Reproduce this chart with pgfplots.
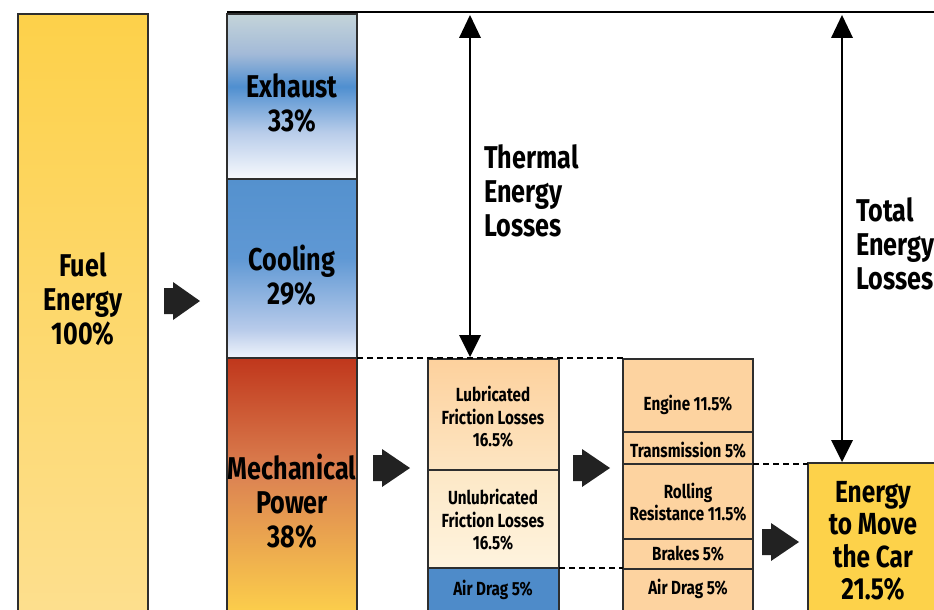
\documentclass[border=0pt]{standalone}
\usepackage{pgfplots}
\pgfplotsset{compat=1.18}
\usepackage{fontspec}
\setmainfont{Fira Sans}[FakeStretch=0.8]
\definecolor{fueltop}{HTML}{FDD14A}
\definecolor{fuelbot}{HTML}{FDDF8E}
\definecolor{exgray}{HTML}{C4D4D9}
\definecolor{exmid}{HTML}{A3BAD8}
\definecolor{exblue}{HTML}{4F8FD0}
\definecolor{exlight}{HTML}{B9CDEA}
\definecolor{exwhite}{HTML}{F7F9FD}
\definecolor{cotop}{HTML}{5491CE}
\definecolor{coband}{HTML}{5F98D4}
\definecolor{colight}{HTML}{B8CBEA}
\definecolor{cobot}{HTML}{F0F4FB}
\definecolor{metop}{HTML}{C0371C}
\definecolor{memid}{HTML}{DC8352}
\definecolor{mebot}{HTML}{FCCF4B}
\definecolor{lubtop}{HTML}{FDD19D}
\definecolor{lubbot}{HTML}{FDE5C2}
\definecolor{unltop}{HTML}{FDE8C6}
\definecolor{unlbot}{HTML}{FEF3DE}
\definecolor{dragblue}{HTML}{4E8BC9}
\definecolor{peach}{HTML}{FDD3A0}
\definecolor{energy}{HTML}{FDD24A}
\definecolor{arrowc}{HTML}{222222}
\definecolor{edge}{HTML}{2E2E2E}
\pgfdeclareverticalshading{fuelsh}{100bp}{color(0bp)=(fuelbot); color(25bp)=(fuelbot); color(75bp)=(fueltop); color(100bp)=(fueltop)}
\pgfdeclareverticalshading{exsh}{100bp}{color(0bp)=(exwhite); color(25bp)=(exwhite); color(39bp)=(exlight); color(53bp)=(exblue); color(63bp)=(exmid); color(75bp)=(exgray); color(100bp)=(exgray)}
\pgfdeclareverticalshading{cosh}{100bp}{color(0bp)=(cobot); color(25bp)=(cobot); color(33bp)=(colight); color(53bp)=(coband); color(75bp)=(cotop); color(100bp)=(cotop)}
\pgfdeclareverticalshading{mesh}{100bp}{color(0bp)=(mebot); color(25bp)=(mebot); color(52bp)=(memid); color(75bp)=(metop); color(100bp)=(metop)}
\pgfdeclareverticalshading{lubsh}{100bp}{color(0bp)=(lubbot); color(25bp)=(lubbot); color(75bp)=(lubtop); color(100bp)=(lubtop)}
\pgfdeclareverticalshading{unlsh}{100bp}{color(0bp)=(unlbot); color(25bp)=(unlbot); color(75bp)=(unltop); color(100bp)=(unltop)}
\begin{document}
\begin{tikzpicture}
\begin{axis}[width=934pt, height=610pt, scale only axis,
  xmin=0, xmax=934, ymin=0, ymax=610, y dir=reverse,
  hide axis, clip=true]
\addplot[draw=none] coordinates {(0,0) (934,610)};
% Fuel energy
\addplot[draw=edge, line width=1.5pt, shading=fuelsh] coordinates {(18,14) (148,14) (148,614) (18,614)} -- cycle;
% Exhaust, cooling, mechanical
\addplot[draw=edge, line width=1.5pt, shading=exsh] coordinates {(227,14) (357,14) (357,179) (227,179)} -- cycle;
\addplot[draw=edge, line width=1.5pt, shading=cosh] coordinates {(227,179) (357,179) (357,358) (227,358)} -- cycle;
\addplot[draw=edge, line width=1.5pt, shading=mesh] coordinates {(227,358) (357,358) (357,614) (227,614)} -- cycle;
% Column 2
\addplot[draw=edge, line width=1.5pt, shading=lubsh] coordinates {(428,359) (559,359) (559,470) (428,470)} -- cycle;
\addplot[draw=edge, line width=1.5pt, shading=unlsh] coordinates {(428,470) (559,470) (559,568) (428,568)} -- cycle;
\addplot[draw=edge, line width=1.5pt, fill=dragblue] coordinates {(428,568) (559,568) (559,614) (428,614)} -- cycle;
% Column 3
\addplot[draw=edge, line width=1.5pt, fill=peach] coordinates {(623,359) (753,359) (753,432) (623,432)} -- cycle;
\addplot[draw=edge, line width=1.5pt, fill=peach] coordinates {(623,432) (753,432) (753,464) (623,464)} -- cycle;
\addplot[draw=edge, line width=1.5pt, fill=peach] coordinates {(623,464) (753,464) (753,539) (623,539)} -- cycle;
\addplot[draw=edge, line width=1.5pt, fill=peach] coordinates {(623,539) (753,539) (753,569) (623,569)} -- cycle;
\addplot[draw=edge, line width=1.5pt, fill=peach] coordinates {(623,569) (753,569) (753,614) (623,614)} -- cycle;
% Energy to move the car
\addplot[draw=edge, line width=1.5pt, fill=energy] coordinates {(808,463) (940,463) (940,614) (808,614)} -- cycle;
% top line
\addplot[black, line width=2.4pt] coordinates {(227,12) (940,12)};
% dashed lines
\addplot[black, line width=1.2pt, dash pattern=on 6pt off 4pt] coordinates {(357,358) (623,358)};
\addplot[black, line width=1.2pt, dash pattern=on 6pt off 4pt] coordinates {(559,568) (623,568)};
\addplot[black, line width=1.2pt, dash pattern=on 6pt off 4pt] coordinates {(753,464) (808,464)};
% block arrows
\addplot[fill=arrowc, draw=none] coordinates {(164,288) (173,288) (173,282) (200,301) (173,320) (173,314) (164,314)} -- cycle;
\addplot[fill=arrowc, draw=none] coordinates {(373,455) (382,455) (382,449) (410,468) (382,487) (382,481) (373,481)} -- cycle;
\addplot[fill=arrowc, draw=none] coordinates {(573,455) (582,455) (582,449) (610,468) (582,487) (582,481) (573,481)} -- cycle;
\addplot[fill=arrowc, draw=none] coordinates {(762,529) (771,529) (771,523) (799,542) (771,561) (771,555) (762,555)} -- cycle;
% thermal double arrow
\addplot[black, line width=2.2pt] coordinates {(470,30) (470,340)};
\addplot[fill=black, draw=none] coordinates {(470,15) (459,38) (481,38)} -- cycle;
\addplot[fill=black, draw=none] coordinates {(470,357) (459,335) (481,335)} -- cycle;
% total double arrow
\addplot[black, line width=2.2pt] coordinates {(842,30) (842,445)};
\addplot[fill=black, draw=none] coordinates {(842,15) (831,38) (853,38)} -- cycle;
\addplot[fill=black, draw=none] coordinates {(842,462) (831,440) (853,440)} -- cycle;
% labels
\begin{scope}[every node/.style={align=center, inner sep=0pt, font=\bfseries\fontsize{31.5}{34}\selectfont}]
\node at (axis cs:83,299) {Fuel\\Energy\\100\%};
\node at (axis cs:292,103) {Exhaust\\33\%};
\node at (axis cs:292,275) {Cooling\\29\%};
\node at (axis cs:292,501) {Mechanical\\Power\\38\%};
\node[anchor=west, align=left] at (axis cs:484,191) {Thermal\\Energy\\Losses};
\node[anchor=west, align=left] at (axis cs:856,244) {Total\\Energy\\Losses};
\node[font=\bfseries\fontsize{30.5}{32.5}\selectfont] at (axis cs:873,541) {Energy\\to Move\\the Car\\21.5\%};
\end{scope}
\begin{scope}[every node/.style={align=center, inner sep=0pt, font=\bfseries\fontsize{19}{22.5}\selectfont}]
\node at (axis cs:493,417) {Lubricated\\Friction Losses\\16.5\%};
\node at (axis cs:493,520) {Unlubricated\\Friction Losses\\16.5\%};
\node at (axis cs:493,590) {Air Drag 5\%};
\node at (axis cs:688,405) {Engine 11.5\%};
\node at (axis cs:688,450) {Transmission 5\%};
\node at (axis cs:688,502) {Rolling\\Resistance 11.5\%};
\node at (axis cs:688,554) {Brakes 5\%};
\node at (axis cs:688,589) {Air Drag 5\%};
\end{scope}
\end{axis}
\end{tikzpicture}
\end{document}
